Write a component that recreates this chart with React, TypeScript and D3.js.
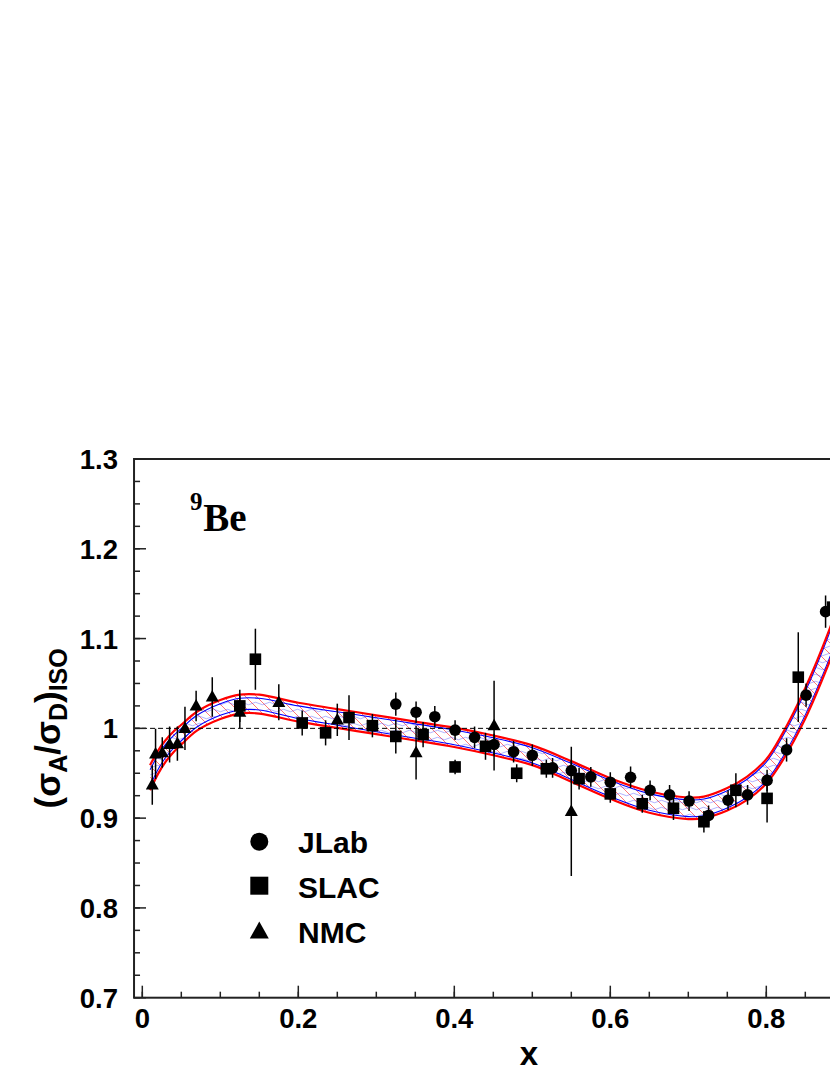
import React from 'react';
import * as d3 from 'd3';

// ---------- data ----------
const jlabX = [0.325, 0.351, 0.375, 0.401, 0.426, 0.451, 0.476, 0.5, 0.526, 0.55, 0.575, 0.6, 0.626, 0.651, 0.676, 0.701, 0.726, 0.751, 0.776, 0.801, 0.826, 0.851, 0.876];
const jlabY = [1.027, 1.018, 1.013, 0.998, 0.99, 0.982, 0.974, 0.97, 0.956, 0.953, 0.946, 0.94, 0.9455, 0.931, 0.926, 0.919, 0.903, 0.92, 0.926, 0.942, 0.976, 1.037, 1.13];
const jlabErr = [0.013, 0.012, 0.012, 0.011, 0.012, 0.012, 0.012, 0.012, 0.011, 0.011, 0.011, 0.011, 0.012, 0.011, 0.011, 0.011, 0.011, 0.011, 0.011, 0.012, 0.013, 0.013, 0.018];

const slacX = [0.125, 0.145, 0.205, 0.235, 0.265, 0.295, 0.325, 0.36, 0.401, 0.44, 0.48, 0.518, 0.56, 0.6, 0.641, 0.681, 0.72, 0.761, 0.801, 0.841, 0.885];
const slacY = [1.025, 1.077, 1.006, 0.995, 1.012, 1.003, 0.991, 0.993, 0.957, 0.98, 0.95, 0.955, 0.944, 0.927, 0.916, 0.911, 0.896, 0.931, 0.922, 1.057, 1.135];
const slacErr = [0.018, 0.034, 0.014, 0.014, 0.025, 0.013, 0.019, 0.014, 0.008, 0.015, 0.01, 0.01, 0.012, 0.01, 0.01, 0.013, 0.012, 0.019, 0.027, 0.05, 0.117];

const nmcX = [0.0128, 0.017, 0.0256, 0.035, 0.045, 0.0547, 0.069, 0.0897, 0.125, 0.175, 0.25, 0.351, 0.451, 0.55];
const nmcY = [0.937, 0.9715, 0.973, 0.982, 0.983, 1.0, 1.025, 1.035, 1.018, 1.029, 1.0095, 0.973, 1.003, 0.9075];
const nmcErr = [0.022, 0.028, 0.017, 0.02, 0.019, 0.024, 0.017, 0.022, 0.018, 0.02, 0.018, 0.03, 0.05, 0.072];

const bandX = [0.01, 0.02, 0.03, 0.04, 0.05, 0.07, 0.1, 0.125, 0.15, 0.2, 0.25, 0.3, 0.35, 0.4, 0.45, 0.5, 0.55, 0.6, 0.65, 0.7, 0.72, 0.75, 0.775, 0.8, 0.82, 0.85, 0.88, 0.9];
const bandY = [0.945, 0.962, 0.975, 0.985, 0.993, 1.008, 1.021, 1.027, 1.027, 1.018, 1.011, 1.004, 0.997, 0.99, 0.981, 0.97, 0.952, 0.933, 0.918, 0.911, 0.912, 0.921, 0.933, 0.952, 0.978, 1.028, 1.09, 1.138];
const bandRedHW = [0.014, 0.013, 0.012, 0.0115, 0.011, 0.0105, 0.0105, 0.0105, 0.0105, 0.0105, 0.0105, 0.0105, 0.0105, 0.0108, 0.011, 0.011, 0.0115, 0.0115, 0.012, 0.012, 0.012, 0.0125, 0.013, 0.0135, 0.015, 0.017, 0.018, 0.02];
const bandBlueHW = [0.009, 0.008, 0.0075, 0.007, 0.0068, 0.0065, 0.0065, 0.0065, 0.0065, 0.007, 0.0075, 0.0078, 0.008, 0.0082, 0.0085, 0.0085, 0.009, 0.009, 0.0093, 0.0093, 0.0093, 0.0096, 0.01, 0.0105, 0.0115, 0.013, 0.014, 0.0155];

const xMajorTicks = [0, 0.2, 0.4, 0.6, 0.8];
const xTickLabels = ['0', '0.2', '0.4', '0.6', '0.8'];
const yMajorTicks = [0.7, 0.8, 0.9, 1.0, 1.1, 1.2, 1.3];
const yTickLabels = ['0.7', '0.8', '0.9', '1', '1.1', '1.2', '1.3'];
const legendNames = ['JLab', 'SLAC', 'NMC'];

// ---------- layout ----------
const W = 830, H = 1075;
const xScale = d3.scaleLinear().domain([0, 1]).range([142.3, 922.3]);
const yScale = d3.scaleLinear().domain([0.7, 1.3]).range([997.7, 459]);
const X_MIN = -0.0106, X_MAX = 0.93;
const FONT = 'Liberation Sans, Arial, Helvetica, sans-serif';

const xMinor = d3.range(0, 0.951, 0.05);
const yMinor = d3.range(0.7, 1.3001, 0.025);

function tri(cx: number, cy: number, w: number, h: number) {
  return `M${cx},${cy - h * 0.6}L${cx + w / 2},${cy + h * 0.4}L${cx - w / 2},${cy + h * 0.4}Z`;
}

export default function App() {
  const idx = bandX.map((_, i) => i);
  const curve = d3.curveCatmullRom.alpha(0.5);
  const areaRed = d3.area<number>()
    .x((i) => xScale(bandX[i]))
    .y0((i) => yScale(bandY[i] - bandRedHW[i]))
    .y1((i) => yScale(bandY[i] + bandRedHW[i]))
    .curve(curve);
  const areaBlue = d3.area<number>()
    .x((i) => xScale(bandX[i]))
    .y0((i) => yScale(bandY[i] - bandBlueHW[i]))
    .y1((i) => yScale(bandY[i] + bandBlueHW[i]))
    .curve(curve);
  const mkLine = (sign: number, hw: number[]) =>
    d3.line<number>()
      .x((i) => xScale(bandX[i]))
      .y((i) => yScale(bandY[i] + sign * hw[i]))
      .curve(curve)(idx) as string;

  const fx0 = xScale(X_MIN), fx1 = xScale(X_MAX);
  const fy0 = yScale(1.3), fy1 = yScale(0.7);

  const errBars = (xs: number[], ys: number[], es: number[], key: string) =>
    xs.map((x, i) => (
      <line key={key + i} x1={xScale(x)} x2={xScale(x)} y1={yScale(ys[i] - es[i])} y2={yScale(ys[i] + es[i])} stroke="#000" strokeWidth={1.5} />
    ));

  return (
    <svg width={W} height={H} style={{ position: 'absolute', left: 0, top: 0, background: '#fff' }}>
      <defs>
        <clipPath id="plotClip">
          <rect x={fx0} y={fy0} width={fx1 - fx0} height={fy1 - fy0} />
        </clipPath>
        <pattern id="redHatch" patternUnits="userSpaceOnUse" width={11} height={11}>
          <path d="M-1,-1L12,12M-6,5L6,17M5,-6L17,6" stroke="#ff2a2a" strokeWidth={0.8} opacity={0.8} />
        </pattern>
        <pattern id="blueWave" patternUnits="userSpaceOnUse" width={14} height={7}>
          <path d="M0,3.5 Q3.5,1 7,3.5 T14,3.5" stroke="#3a3aff" strokeWidth={0.6} fill="none" opacity={0.65} />
        </pattern>
      </defs>
      <rect x={0} y={0} width={W} height={H} fill="#fff" />

      <g clipPath="url(#plotClip)">
        <path d={areaRed(idx) as string} fill="#fff" />
        <path d={areaRed(idx) as string} fill="url(#redHatch)" />
        <path d={areaBlue(idx) as string} fill="url(#blueWave)" />
        <path d={mkLine(1, bandBlueHW)} stroke="#0000ff" strokeWidth={1.1} fill="none" />
        <path d={mkLine(-1, bandBlueHW)} stroke="#0000ff" strokeWidth={1.1} fill="none" />
        <path d={mkLine(1, bandRedHW)} stroke="#ff0000" strokeWidth={2.2} fill="none" />
        <path d={mkLine(-1, bandRedHW)} stroke="#ff0000" strokeWidth={2.2} fill="none" />

        <line x1={fx0} x2={fx1} y1={yScale(1)} y2={yScale(1)} stroke="#000" strokeWidth={1} strokeDasharray="5,3" />

        {errBars(jlabX, jlabY, jlabErr, 'je')}
        {errBars(slacX, slacY, slacErr, 'se')}
        {errBars(nmcX, nmcY, nmcErr, 'ne')}
        {jlabX.map((x, i) => (
          <circle key={'jc' + i} cx={xScale(x)} cy={yScale(jlabY[i])} r={5.8} fill="#000" />
        ))}
        {slacX.map((x, i) => (
          <rect key={'sr' + i} x={xScale(x) - 5.8} y={yScale(slacY[i]) - 5.8} width={11.6} height={11.6} fill="#000" />
        ))}
        {nmcX.map((x, i) => (
          <path key={'nt' + i} d={tri(xScale(x), yScale(nmcY[i]), 13, 11.5)} fill="#000" />
        ))}
      </g>

      {/* frame */}
      <rect x={fx0} y={fy0} width={fx1 - fx0} height={fy1 - fy0} fill="none" stroke="#222" strokeWidth={2} />

      {/* x ticks */}
      {xMinor.map((t, i) => (
        <line key={'xm' + i} x1={xScale(t)} x2={xScale(t)} y1={fy1} y2={fy1 - 6} stroke="#222" strokeWidth={1.5} />
      ))}
      {xMajorTicks.map((t, i) => (
        <g key={'xM' + i}>
          <line x1={xScale(t)} x2={xScale(t)} y1={fy1} y2={fy1 - 12} stroke="#222" strokeWidth={1.5} />
          <text x={xScale(t)} y={1027.5} textAnchor="middle" fontFamily={FONT} fontWeight="bold" fontSize={27.5} fill="#000">{xTickLabels[i]}</text>
        </g>
      ))}

      {/* y ticks */}
      {yMinor.map((t, i) => (
        <line key={'ym' + i} x1={fx0} x2={fx0 + 6} y1={yScale(t)} y2={yScale(t)} stroke="#222" strokeWidth={1.5} />
      ))}
      {yMajorTicks.map((t, i) => (
        <g key={'yM' + i}>
          <line x1={fx0} x2={fx0 + 12} y1={yScale(t)} y2={yScale(t)} stroke="#222" strokeWidth={1.5} />
          <text x={118} y={yScale(t) + 10} textAnchor="end" fontFamily={FONT} fontWeight="bold" fontSize={27.5} fill="#000">{yTickLabels[i]}</text>
        </g>
      ))}

      {/* axis titles */}
      <text x={529} y={1065} textAnchor="middle" fontFamily={FONT} fontWeight="bold" fontSize={33} fill="#000">x</text>
      <text transform={`translate(60,${yScale(1.0)}) rotate(-90)`} textAnchor="middle" fontFamily={FONT} fontWeight="bold" fontSize={35} fill="#000">
        (σ<tspan fontSize={25} dy={7}>A</tspan><tspan dy={-7}>/σ</tspan><tspan fontSize={25} dy={7}>D</tspan><tspan dy={-7}>)</tspan><tspan fontSize={25} dy={7}>ISO</tspan>
      </text>

      {/* nucleus label */}
      <text x={190} y={510} fontFamily="Liberation Serif, Times New Roman, serif" fontWeight="bold" fontSize={25} fill="#000">9</text>
      <text x={203.3} y={530.7} fontFamily="Liberation Serif, Times New Roman, serif" fontWeight="bold" fontSize={39} fill="#000">Be</text>

      {/* legend */}
      <circle cx={259.3} cy={841.7} r={9} fill="#000" />
      <rect x={259.3 - 9} y={885.7 - 9} width={18} height={18} fill="#000" />
      <path d={tri(259.3, 931.7, 19, 17)} fill="#000" />
      {legendNames.map((n, i) => (
        <text key={'lg' + i} x={298} y={852.7 + i * 45} fontFamily={FONT} fontWeight="bold" fontSize={30} fill="#000">{n}</text>
      ))}
    </svg>
  );
}
